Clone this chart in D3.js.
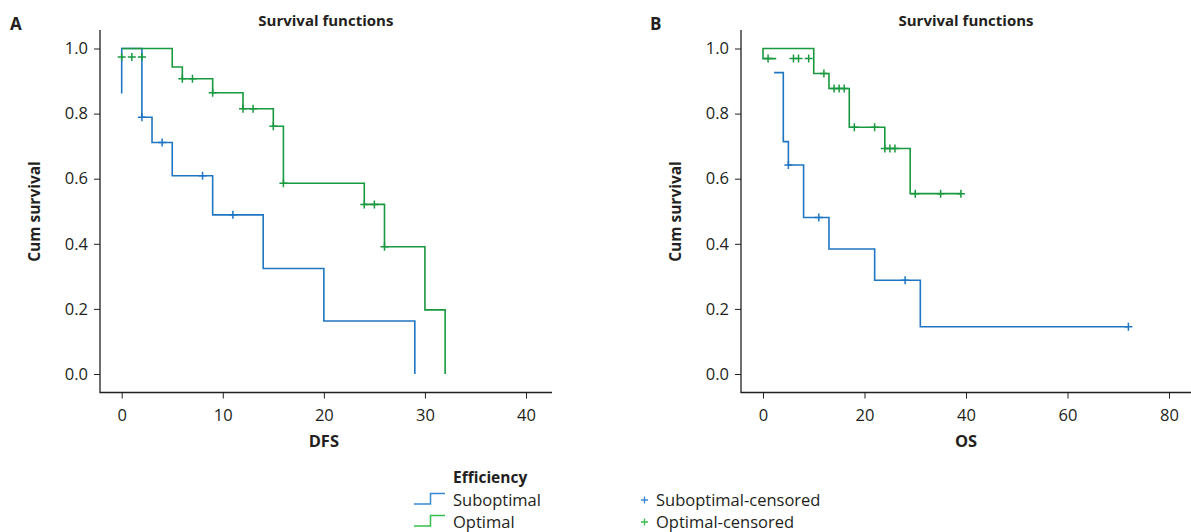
<!DOCTYPE html>
<html>
<head>
<meta charset="utf-8">
<script src="https://cdn.jsdelivr.net/npm/d3@7"></script>
<style>
  body { margin: 0; background: #fff; }
  svg text { font-family: "Open Sans", sans-serif; fill: #231f20; }
  .axis path, .axis line { stroke: #231f20; }
</style>
</head>
<body>
<svg id="chart" width="1191" height="532"></svg>
<script>
// Kaplan-Meier curves, [time, cumulative survival]
// (drawn as step-after lines, so each point = level from that time on)
const dfsSuboptimal = [[0, 0.862], [0, 1], [2, 0.789], [3, 0.711], [5, 0.609], [9, 0.489], [14, 0.324], [20, 0.163], [29, 0]];
const dfsOptimal = [[0, 1], [5, 0.943], [6, 0.907], [9, 0.864], [12, 0.815], [15, 0.761], [16, 0.586], [24, 0.521], [26, 0.391], [30, 0.197], [32, 0]];
const dfsSuboptimalCensored = [[2, 0.789], [4, 0.711], [8, 0.609], [11, 0.489]];
const dfsOptimalCensored = [[0, 0.974], [1, 0.974], [2, 0.974], [6, 0.907], [7, 0.907], [9, 0.864], [12, 0.815], [13, 0.815], [15, 0.761], [16, 0.586], [24, 0.521], [25, 0.521], [26, 0.391]];

const osSuboptimal = [[2.2, 0.926], [4, 0.714], [5, 0.642], [8, 0.481], [13, 0.384], [22, 0.288], [31, 0.145], [72, 0.145]];
const osOptimal = [[2.6, 0.969], [0, 0.969], [0, 1], [10, 0.923], [13, 0.877], [17, 0.758], [24, 0.693], [29, 0.554], [39, 0.554]];
const osSuboptimalCensored = [[5, 0.642], [11, 0.481], [28, 0.288], [72, 0.145]];
const osOptimalCensored = [[1, 0.969], [6, 0.969], [7, 0.969], [9, 0.969], [12, 0.923], [14, 0.877], [15, 0.877], [16, 0.877], [18, 0.758], [22, 0.758], [24, 0.693], [25, 0.693], [26, 0.693], [30, 0.554], [35, 0.554], [39, 0.554]];

const yTicks = [0, 0.2, 0.4, 0.6, 0.8, 1.0];
const dfsTicks = [0, 10, 20, 30, 40];
const osTicks = [0, 20, 40, 60, 80];
const legendTitle = "Efficiency";
const legendSeries = ["Suboptimal", "Optimal"];

const colors = { Suboptimal: "#1f76c2", Optimal: "#19993f" };
const legendColors = { Suboptimal: "#3a89d6", Optimal: "#37bd4b" };

const svg = d3.select("#chart");

function drawPanel(p) {
  const g = svg.append("g");

  const x = d3.scaleLinear().domain([p.ticks[0], p.ticks[p.ticks.length - 1]]).range(p.xRange);
  const y = d3.scaleLinear().domain([0, 1]).range([374, 48.5]);

  // axes: no domain path, we draw longer axis lines ourselves
  const xAxis = g.append("g").attr("class", "axis")
    .attr("transform", "translate(0,392.5)")
    .call(d3.axisBottom(x).tickValues(p.ticks).tickSize(6).tickSizeOuter(0).tickFormat(d3.format("d")));
  xAxis.select(".domain").remove();
  xAxis.selectAll("text").attr("y", 28.5).attr("dy", null).style("font-size", "16.5px");

  const yAxis = g.append("g").attr("class", "axis")
    .attr("transform", `translate(${p.axisX},0)`)
    .call(d3.axisLeft(y).tickValues(yTicks).tickSize(6).tickSizeOuter(0).tickFormat(d3.format(".1f")));
  yAxis.select(".domain").remove();
  yAxis.selectAll("text").attr("x", -12).style("font-size", "16.5px");

  g.append("path")
    .attr("d", `M${p.axisX},30V392.5H${p.axisEnd}`)
    .attr("fill", "none").attr("stroke", "#231f20").attr("stroke-width", 1.3);

  const line = d3.line()
    .x(d => x(d[0]))
    .y(d => y(d[1]))
    .curve(d3.curveStepAfter);

  p.curves.forEach(c => {
    g.append("path")
      .attr("d", line(c.data))
      .attr("fill", "none")
      .attr("stroke", colors[c.name])
      .attr("stroke-width", 1.6);
  });

  // censored marks
  p.censored.forEach(c => {
    g.selectAll(null)
      .data(c.data)
      .join("path")
      .attr("d", d => `M${x(d[0]) - 4},${y(d[1])}h8M${x(d[0])},${y(d[1]) - 4}v8`)
      .attr("stroke", colors[c.name])
      .attr("stroke-width", 1.5);
  });

  g.append("text")
    .attr("x", (p.xRange[0] + p.xRange[1]) / 2 + p.titleShift)
    .attr("y", 25.5)
    .attr("text-anchor", "middle")
    .style("font-weight", "bold").style("font-size", "15px")
    .text("Survival functions");

  g.append("text")
    .attr("x", (p.xRange[0] + p.xRange[1]) / 2)
    .attr("y", 447)
    .attr("text-anchor", "middle")
    .style("font-weight", "bold").style("font-size", "16.5px")
    .text(p.xLabel);

  g.append("text")
    .attr("transform", `translate(${p.axisX - 60.5},211.5) rotate(-90)`)
    .attr("text-anchor", "middle")
    .style("font-weight", "bold").style("font-size", "15.5px")
    .text("Cum survival");

  g.append("text")
    .attr("x", p.letterX)
    .attr("y", 30)
    .style("font-weight", "bold").style("font-size", "17px")
    .text(p.letter);
}

drawPanel({
  letter: "A", letterX: 10, axisX: 100, axisEnd: 552, xRange: [121.7, 526], titleShift: 2,
  ticks: dfsTicks, xLabel: "DFS",
  curves: [{ name: "Suboptimal", data: dfsSuboptimal }, { name: "Optimal", data: dfsOptimal }],
  censored: [{ name: "Suboptimal", data: dfsSuboptimalCensored }, { name: "Optimal", data: dfsOptimalCensored }]
});

drawPanel({
  letter: "B", letterX: 650, axisX: 741, axisEnd: 1191, xRange: [763, 1169], titleShift: 0,
  ticks: osTicks, xLabel: "OS",
  curves: [{ name: "Suboptimal", data: osSuboptimal }, { name: "Optimal", data: osOptimal }],
  censored: [{ name: "Suboptimal", data: osSuboptimalCensored }, { name: "Optimal", data: osOptimalCensored }]
});

// legend
const leg = svg.append("g");
leg.append("text").attr("x", 453).attr("y", 483)
  .style("font-weight", "bold").style("font-size", "15.5px")
  .text(legendTitle);

legendSeries.forEach((name, i) => {
  const by = 506 + i * 22;
  leg.append("path")
    .attr("d", `M414,${by - 2}H430.5V${by - 12.5}H445`)
    .attr("fill", "none")
    .attr("stroke", legendColors[name])
    .attr("stroke-width", 1.5);
  leg.append("text").attr("x", 453).attr("y", by)
    .style("font-size", "16.5px").text(name);

  leg.append("path")
    .attr("d", `M641,${by - 6}h7M644.5,${by - 9.5}v7`)
    .attr("stroke", legendColors[name])
    .attr("stroke-width", 1.3);
  leg.append("text").attr("x", 656).attr("y", by)
    .style("font-size", "16.5px").text(name + "-censored");
});
</script>
</body>
</html>
